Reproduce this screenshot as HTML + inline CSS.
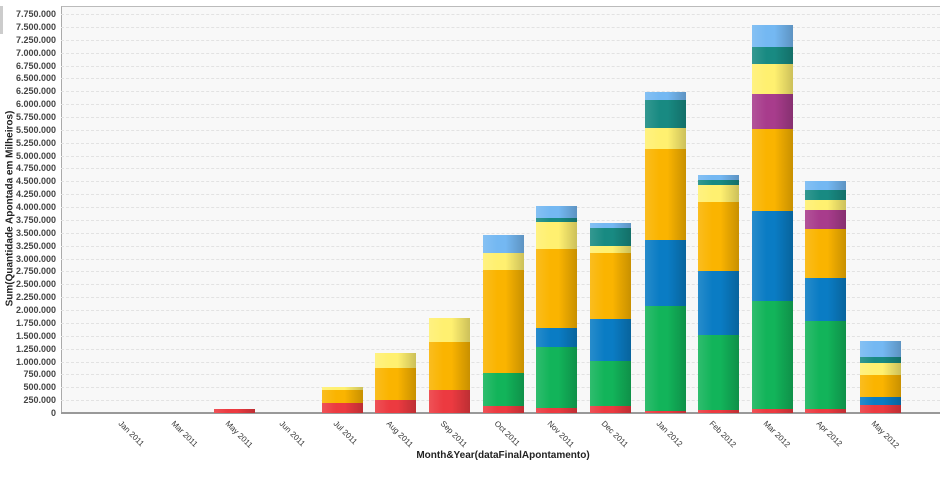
<!DOCTYPE html>
<html><head><meta charset="utf-8"><style>
body{margin:0;width:940px;height:480px;background:#fff;position:relative;overflow:hidden;font-family:"Liberation Sans",sans-serif}
.plot{position:absolute;left:61px;top:6px;width:879px;height:407px;background:#f8f8f8;border-top:1px solid #bbb;border-left:1px solid #aaa}
.g{position:absolute;left:61px;width:879px;border-top:1px dashed #e2e2e2;height:0}
.yl{position:absolute;left:0;width:56px;text-align:right;font-size:9px;font-weight:bold;color:#444;line-height:10px}
.s{position:absolute;width:41px}
.xl{position:absolute;font-size:8px;color:#333;transform:rotate(45deg);transform-origin:0 0;white-space:nowrap}
</style></head><body>
<div style="position:absolute;left:0;top:6px;width:3px;height:28px;background:#ccc"></div>
<div class="plot"></div>
<div id="grid"></div>
<div style="position:absolute;left:61px;top:412px;width:879px;height:2px;background:#999"></div>
<div id="bars"></div>
<div style="position:absolute;left:-100px;top:203px;width:220px;text-align:center;transform:rotate(-90deg);font-size:10px;font-weight:bold;color:#222">Sum(Quantidade Apontada em Milheiros)</div>
<div style="position:absolute;left:350px;top:450px;width:306px;text-align:center;font-size:10px;font-weight:bold;color:#222">Month&amp;Year(dataFinalApontamento)</div>
<script>
var h='';
for(var i=0;i<=31;i++){var v=i*250000;var y=413-i*12.87;
var t=i==0?'0':v.toLocaleString('en-US').replace(/,/g,'.');
if(i>0)h+='<div class="g" style="top:'+y+'px"></div>';
h+='<div class="yl" style="top:'+(y-5)+'px">'+t+'</div>';}
document.getElementById('grid').innerHTML=h;
// order: red, green, blue, orange, purple, yellow, teal, lightblue
var C=['#ec3a40','#12b45a','#0a7cc4','#fab400','#a83c8c','#fff070','#188a82','#74b8f2'];
var D=[[234,[409]],[342,[403,,,390,,387]],[395,[400,,,368,,353]],[449,[390,,,342,,318]],
[503,[406,373,,270,,253,,235]],[556,[408,347,328,249,,222,218,206]],[610,[406,361,319,253,,246,228,223]],
[665,[411,306,240,149,,128,100,92]],[718,[410,335,271,202,,185,180,175]],[772,[409,301,211,129,94,64,47,25]],
[825,[409,321,278,229,210,200,190,181]],[880,[405,,397,375,,363,357,341]]];
var b='';
D.forEach(function(d){var prev=413;d[1].forEach(function(t,k){if(t===undefined)return;
b+='<div class="s" style="left:'+(d[0]-20)+'px;top:'+t+'px;height:'+(prev-t)+'px;background:linear-gradient(90deg,rgba(255,255,255,0.12) 0%,rgba(255,255,255,0) 35%,rgba(0,0,0,0) 55%,rgba(0,0,0,0.2) 100%),'+C[k]+';"></div>';
prev=t;});});
var L=[[127,'Jan 2011'],[180,'Mar 2011'],[234,'May 2011'],[288,'Jun 2011'],[342,'Jul 2011'],[395,'Aug 2011'],[449,'Sep 2011'],[503,'Oct 2011'],[556,'Nov 2011'],[610,'Dec 2011'],[665,'Jan 2012'],[718,'Feb 2012'],[772,'Mar 2012'],[825,'Apr 2012'],[880,'May 2012']];
L.forEach(function(l){b+='<div class="xl" style="left:'+(l[0]-4)+'px;top:419px">'+l[1]+'</div>';});
document.getElementById('bars').innerHTML=b;
</script>
</body></html>
